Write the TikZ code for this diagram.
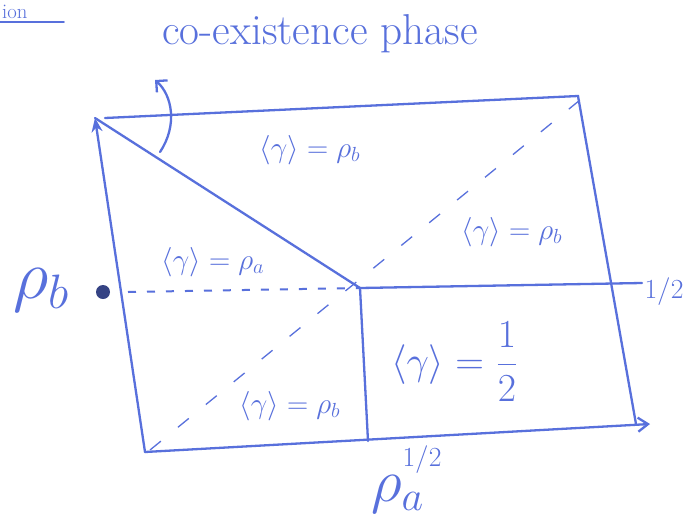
\documentclass[tikz,border=0pt]{standalone}
\usetikzlibrary{arrows.meta}
\definecolor{pen}{RGB}{88,112,220}
\begin{document}
\begin{tikzpicture}[x=1pt,y=-1pt,
  ln/.style={draw=pen,line width=2.3pt,line cap=round},
  txt/.style={text=pen,font=\LARGE},
  lbl/.style={txt,scale=1.7},
  big/.style={txt,scale=3.5},
  half/.style={txt,scale=1.6}]
\useasboundingbox[fill=white] (0,0) rectangle (694,528);
% corners
\coordinate (tl) at (95,118);
\coordinate (tla) at (105,118);
\coordinate (tr) at (578,96);
\coordinate (br) at (636,424);
\coordinate (bra) at (650,424);
\coordinate (bl) at (145,452);
\coordinate (c) at (360,288);
\coordinate (rh) at (642,283);
\coordinate (bv) at (368,441);
\coordinate (dl) at (128,292);
\coordinate (dsA) at (150,450);
\coordinate (dsB) at (580,100);
\coordinate (cs) at (160,152);
\coordinate (ce) at (155,80);
% frame
\draw[ln,-{Stealth[length=14pt,width=11pt]}] (bl) -- (tl);
\draw[ln] (tla) -- (tr) -- (br);
\draw[ln,-{Straight Barb[length=10pt,width=14pt]}] (bl) -- (bra);
% phase boundaries
\draw[ln] (tl) -- (c);
\draw[ln] (c) -- (rh);
\draw[ln] (c) -- (bv);
\draw[draw=pen,line width=2pt,dash pattern=on 8pt off 11pt] (dl) -- (c);
\draw[draw=pen,line width=1.3pt,dash pattern=on 14pt off 22pt] (dsA) -- (dsB);
% curved arrow
\draw[ln,-{Straight Barb[length=8pt,width=16pt]}] (cs) .. controls (178,125) and (172,95) .. (ce);
% dot
\fill[pen!60!black] (103,292) circle (7pt);
% labels
\node[txt,scale=2.5] (title) at (320,34) {co-existence phase};
\node[lbl] (l1) at (310,150) {$\langle\gamma\rangle = \rho_b$};
\node[lbl] (l2) at (512,232) {$\langle\gamma\rangle = \rho_b$};
\node[lbl] (l3) at (213,262) {$\langle\gamma\rangle = \rho_a$};
\node[txt,scale=2.3] (l4) at (455,362) {$\langle\gamma\rangle = \displaystyle\frac{1}{2}$};
\node[lbl] (l5) at (290,406) {$\langle\gamma\rangle = \rho_b$};
\node[big,scale=1.15] (rb) at (42,290) {$\rho_b$};
\node[big] (ra) at (398,494) {$\rho_a$};
\node[half] (h1) at (664,292) {$1/2$};
\node[half] (h2) at (422,460) {$1/2$};
\node[txt,scale=1.2,anchor=base west,inner sep=0pt] (frag) at (2,18) {ion};
\draw[ln,line width=1.8pt] (0,22) -- (64,22);
\end{tikzpicture}
\end{document}
